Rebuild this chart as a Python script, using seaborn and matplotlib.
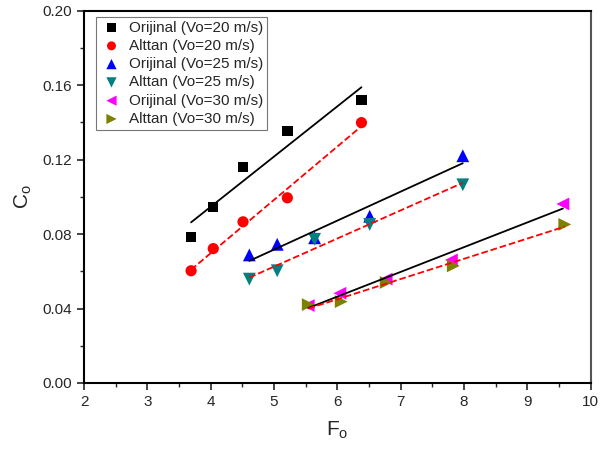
import numpy as np
import pandas as pd
import matplotlib
matplotlib.use("Agg")
import matplotlib.pyplot as plt
import seaborn as sns

# Data
x20 = [3.69, 4.04, 4.51, 5.21, 6.38]
orig20 = [0.0786, 0.0946, 0.1159, 0.1355, 0.1522]
alt20 = [0.0603, 0.0722, 0.0866, 0.0995, 0.1399]

x25 = [4.61, 5.05, 5.64, 6.51, 7.98]
orig25 = [0.0688, 0.0745, 0.0780, 0.0896, 0.1221]
alt25 = [0.0558, 0.0603, 0.0772, 0.0852, 0.1065]

x30o = [5.54, 6.04, 6.77, 7.80, 9.56]
orig30 = [0.0416, 0.0482, 0.0558, 0.0661, 0.0962]
x30a = [5.54, 6.06, 6.77, 7.83, 9.59]
alt30 = [0.0421, 0.0437, 0.0540, 0.0629, 0.0852]

labels = ["Orijinal (Vo=20 m/s)", "Alttan (Vo=20 m/s)",
          "Orijinal (Vo=25 m/s)", "Alttan (Vo=25 m/s)",
          "Orijinal (Vo=30 m/s)", "Alttan (Vo=30 m/s)"]

sns.set_theme(style="ticks")
plt.rcParams['font.family'] = ['Liberation Sans', 'DejaVu Sans']

fig = plt.figure(figsize=(6.09, 4.5), dpi=100)
ax = fig.add_axes([0.138, 0.149, 0.832, 0.827])

series = [
    (x20, orig20, "#000000", "s", "-", 55),
    (x20, alt20, "#ff0000", "o", "--", 65),
    (x25, orig25, "#0000ff", "^", "-", 85),
    (x25, alt25, "#008080", "v", "--", 85),
    (x30o, orig30, "#ff00ff", "<", "-", 85),
    (x30a, alt30, "#808000", ">", "--", 85),
]

for (xs, ys, col, mk, ls, sz), lab in zip(series, labels):
    df = pd.DataFrame({"x": xs, "y": ys})
    sns.scatterplot(data=df, x="x", y="y", ax=ax, color=col, marker=mk,
                    s=sz, edgecolor="none", label=lab, zorder=3)

for (xs, ys, col, mk, ls, sz) in series:
    p = np.polyfit(xs, ys, 1)
    xx = np.array([min(xs), max(xs)])
    fit = pd.DataFrame({"x": xx, "y": np.polyval(p, xx)})
    lc = "black" if ls == "-" else "#ff0000"
    sns.lineplot(data=fit, x="x", y="y", ax=ax, color=lc, linestyle=ls,
                 linewidth=1.3, zorder=4, legend=False)

ax.set_xlim(2, 10)
ax.set_ylim(0, 0.20)
ax.set_xticks(np.arange(2, 11, 1))
ax.set_yticks(np.arange(0, 0.201, 0.04))
ax.set_yticklabels([f"{v:.2f}" for v in np.arange(0, 0.201, 0.04)])
ax.set_xticks(np.arange(2.5, 10, 1), minor=True)
ax.set_yticks(np.arange(0.02, 0.2, 0.04), minor=True)
ax.tick_params(axis="both", which="major", direction="out", length=5, width=1.2,
               labelsize=11, top=False, right=False)
ax.tick_params(axis="both", which="minor", direction="out", length=3, width=1.0,
               top=False, right=False)
for s in ax.spines.values():
    s.set_linewidth(1.5)
    s.set_color("black")
ax.spines["right"].set_color("#555555")

ax.set_xlabel("F$_\\mathregular{o}$", fontsize=15, labelpad=8)
ax.set_ylabel("C$_\\mathregular{o}$", fontsize=15, labelpad=6)

leg = ax.legend(loc="upper left", bbox_to_anchor=(0.024, 0.984), borderaxespad=0,
                fontsize=11, frameon=True, fancybox=False, edgecolor="#555555",
                handletextpad=0.4, labelspacing=0.28, borderpad=0.25,
                markerscale=0.8, handlelength=1.5)
leg.get_frame().set_linewidth(0.8)

fig.savefig("out.png", dpi=100)
